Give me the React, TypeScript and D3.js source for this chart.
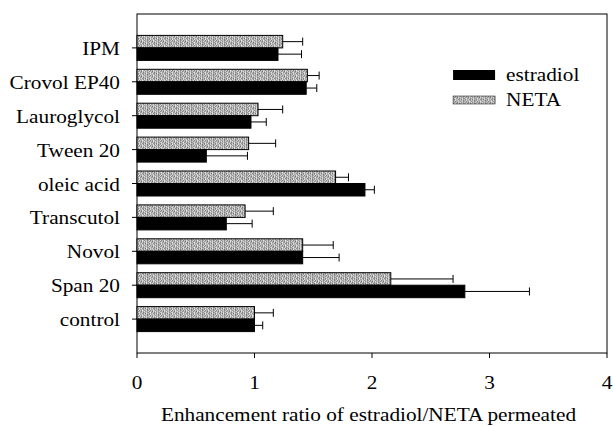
import React from 'react'
import * as d3 from 'd3'

const categories = ['IPM', 'Crovol EP40', 'Lauroglycol', 'Tween 20', 'oleic acid', 'Transcutol', 'Novol', 'Span 20', 'control']
const estradiol = [1.2, 1.44, 0.97, 0.59, 1.94, 0.76, 1.41, 2.79, 1.0]
const estradiolErr = [0.2, 0.09, 0.13, 0.35, 0.08, 0.22, 0.31, 0.55, 0.07]
const neta = [1.24, 1.45, 1.03, 0.95, 1.69, 0.92, 1.41, 2.16, 1.0]
const netaErr = [0.17, 0.1, 0.21, 0.23, 0.11, 0.24, 0.26, 0.53, 0.16]
const xTicks = [0, 1, 2, 3, 4]

const W = 613
const H = 426
const margin = { top: 14, right: 6, bottom: 73, left: 137 }
const FONT = '"Liberation Serif", "Times New Roman", serif'
const SX = 1.12 // reference text looks slightly stretched horizontally

// stipple texture for the NETA bars (grey levels, hand-picked irregular grid)
const NOISE = [
  'a6e79c5d8b3',
  '8d4b7ea69c5',
  'c59a3d8e6b7',
  '7be68c4a9d5',
  'a4c9d57b3e8',
]
const hex = (c: string) => {
  const v = Math.round(0x55 + (parseInt(c, 16) / 15) * 0x99)
  return `rgb(${v},${v},${v})`
}

const T = ({ x, y, anchor = 'start', size = 19, children }: any) => (
  <text transform={`translate(${x},${y}) scale(${SX},1)`} textAnchor={anchor} fontSize={size} fill="#000">
    {children}
  </text>
)

export default function App() {
  const innerW = W - margin.left - margin.right
  const innerH = H - margin.top - margin.bottom
  const x = d3.scaleLinear().domain([0, 4]).range([0, innerW])
  const y = d3.scalePoint<string>().domain(categories).range([0, innerH]).padding(1)
  const barH = 12.5
  const cap = 4
  const pw = NOISE[0].length
  const ph = NOISE.length

  const bar = (v: number, e: number, yTop: number, fill: string, key: string) => {
    const yc = yTop + barH / 2
    return (
      <g key={key}>
        <rect x={x(0)} y={yTop} width={x(v) - x(0)} height={barH} fill={fill} stroke="#000" strokeWidth={1} />
        <line x1={x(v)} x2={x(v + e)} y1={yc} y2={yc} stroke="#000" strokeWidth={1} />
        <line x1={x(v + e)} x2={x(v + e)} y1={yc - cap} y2={yc + cap} stroke="#000" strokeWidth={1} />
      </g>
    )
  }

  return (
    <svg width={W} height={H} style={{ position: 'absolute', left: 0, top: 0, background: '#fff' }}>
      <defs>
        <pattern id="stipple" width={pw} height={ph} patternUnits="userSpaceOnUse">
          {NOISE.map((row, r) =>
            row.split('').map((c, k) => (
              <rect key={`${r}-${k}`} x={k} y={r} width={1} height={1} fill={hex(c)} />
            ))
          )}
        </pattern>
      </defs>
      <g transform={`translate(${margin.left},${margin.top})`} fontFamily={FONT}>
        <rect x={0} y={0} width={innerW} height={innerH} fill="none" stroke="#000" strokeWidth={1} />
        {categories.map((c, i) => {
          const yc = y(c) as number
          return (
            <g key={c}>
              {bar(neta[i], netaErr[i], yc - barH, 'url(#stipple)', 'n')}
              {bar(estradiol[i], estradiolErr[i], yc, '#000', 'e')}
              <line x1={-5} x2={0} y1={yc} y2={yc} stroke="#000" />
              <T x={-17} y={yc + 7} anchor="end">{c}</T>
            </g>
          )
        })}
        {xTicks.map(t => (
          <g key={t}>
            <line x1={x(t)} x2={x(t)} y1={innerH} y2={innerH + 5} stroke="#000" />
            <T x={x(t)} y={innerH + 36} anchor="middle">{t}</T>
          </g>
        ))}
        <T x={x(1.97)} y={innerH + 68} anchor="middle">Enhancement ratio of estradiol/NETA permeated</T>
        <g transform={`translate(${x(2.69)},${56})`}>
          <rect x={0} y={0} width={42} height={10} fill="#000" />
          <T x={53} y={11}>estradiol</T>
          <rect x={0} y={26} width={42} height={8} fill="url(#stipple)" stroke="#000" strokeWidth={0.5} />
          <T x={53} y={36}>NETA</T>
        </g>
      </g>
    </svg>
  )
}
